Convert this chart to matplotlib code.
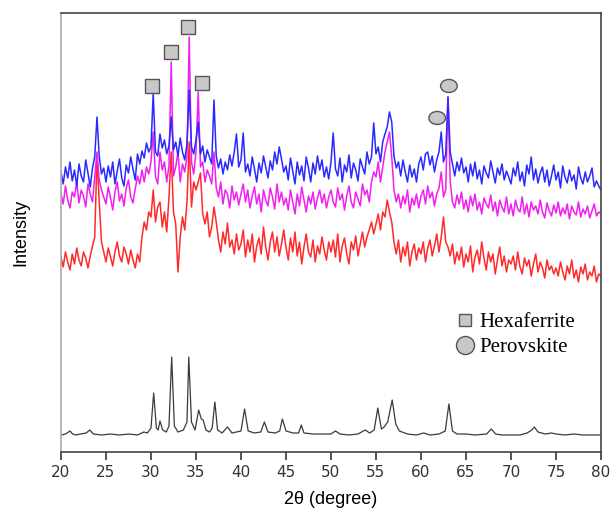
import matplotlib.pyplot as plt
import numpy as np
from matplotlib.lines import Line2D
from matplotlib.patches import Ellipse

# 2theta grid for the three measured patterns (0.25 deg step)
two_theta = np.arange(0, 241) * 0.25 + 20

blue = [
    280, 268, 285, 274, 290, 271, 282, 266, 288, 276, 270, 292, 279, 265, 284, 295, 335, 296, 278, 284,
    270, 286, 275, 290, 268, 281, 293, 274, 266, 287, 279, 295, 283, 272, 298, 288, 301, 294, 309, 300,
    305, 359, 300, 296, 318, 304, 312, 298, 306, 335, 302, 310, 296, 314, 300, 292, 308, 362, 305, 298,
    312, 330, 298, 306, 290, 302, 295, 288, 352, 296, 284, 293, 278, 290, 282, 297, 286, 300, 318, 285,
    292, 319, 280, 288, 276, 295, 283, 270, 289, 279, 296, 285, 274, 291, 282, 300, 288, 305, 293, 280,
    286, 272, 294, 281, 268, 290, 277, 286, 271, 295, 284, 270, 289, 278, 296, 282, 292, 275, 285, 273,
    290, 319, 283, 276, 294, 270, 287, 280, 297, 274, 289, 282, 271, 293, 285, 278, 300, 288, 295, 329,
    298, 305, 290, 310, 318, 325, 340, 330, 296, 284, 290, 276, 292, 280, 270, 287, 275, 283, 270, 288,
    295, 282, 298, 300, 287, 296, 280, 292, 300, 320, 290, 298, 355, 300, 288, 276, 290, 281, 294, 279,
    285, 270, 288, 276, 290, 273, 282, 268, 286, 279, 274, 291, 280, 269, 284, 277, 288, 272, 281, 275,
    268, 284, 276, 290, 271, 280, 266, 287, 278, 295, 272, 283, 269, 279, 285, 270, 282, 266, 276, 287,
    272, 280, 264, 286, 275, 269, 282, 271, 277, 263, 285, 274, 268, 280, 270, 276, 284, 265, 271, 266,
    262,
]

magenta = [
    258, 248, 266, 252, 244, 260, 255, 270, 249, 262, 256, 245, 268, 258, 250, 275, 300, 272, 262, 255,
    248, 265, 254, 242, 260, 270, 251, 258, 246, 264, 272, 255, 249, 263, 276, 268, 282, 270, 285, 278,
    290, 320, 275, 268, 300, 282, 290, 270, 286, 390, 276, 285, 300, 270, 288, 280, 295, 415, 290, 278,
    300, 360, 285, 290, 270, 282, 276, 268, 300, 264, 255, 270, 248, 262, 258, 244, 266, 252, 260, 247,
    258, 268, 250, 262, 244, 256, 265, 248, 258, 240, 262, 252, 246, 264, 255, 243, 268, 250, 260, 247,
    254, 242, 262, 250, 238, 258, 246, 265, 252, 240, 256, 248, 260, 243, 254, 262, 249, 258, 244, 255,
    262, 250, 245, 264, 252, 258, 242, 256, 266, 250, 244, 260, 253, 246, 268, 257, 262, 250, 270, 280,
    275, 290, 270, 285, 300, 310, 320, 295, 262, 250, 258, 244, 256, 248, 262, 240, 254, 247, 258, 244,
    256, 262, 248, 266, 254, 260, 246, 258, 264, 280, 255, 262, 355, 270, 250, 244, 257, 248, 260, 243,
    252, 240, 256, 246, 258, 242, 250, 238, 254, 248, 244, 257, 241, 250, 236, 252, 245, 240, 255, 238,
    248, 236, 252, 243, 240, 255, 238, 248, 235, 250, 242, 246, 238, 252, 240, 234, 249, 241, 236, 247,
    239, 250, 236, 244, 238, 248, 233, 246, 240, 237, 250, 235, 243, 238, 246, 234, 241, 248, 236, 240,
    238,
]

red = [
    195, 185, 200, 190, 182, 198, 188, 204, 192, 186, 200, 194, 184, 196, 206, 215, 295, 250, 210, 200,
    190, 204, 195, 186, 200, 210, 196, 190, 205, 198, 188, 202, 192, 184, 198, 190, 215, 230, 222, 240,
    235, 262, 230, 245, 250, 225, 240, 220, 255, 300, 240, 228, 180, 215, 235, 222, 250, 310, 245, 270,
    262, 270, 279, 238, 228, 240, 215, 225, 245, 230, 212, 200, 220, 208, 229, 205, 212, 198, 218, 202,
    208, 222, 195, 212, 200, 218, 190, 206, 214, 198, 225, 205, 192, 210, 220, 200, 215, 196, 208, 222,
    205, 192, 214, 200, 220, 196, 210, 188, 205, 218, 200, 195, 212, 190, 206, 198, 215, 202, 192, 210,
    200, 212, 195, 218, 190, 206, 214, 198, 188, 210, 202, 216, 196, 208, 220, 205, 215, 222, 230, 218,
    228, 238, 222, 240, 235, 252, 240, 230, 210, 198, 212, 190, 205, 196, 210, 186, 200, 208, 192, 204,
    198, 210, 190, 204, 212, 196, 206, 218, 200, 215, 235, 210, 205, 196, 208, 188, 200, 192, 205, 185,
    198, 190, 206, 180, 195, 202, 188, 210, 194, 182, 200, 190, 198, 178, 192, 205, 186, 196, 180, 192,
    188, 196, 182, 200, 185, 178, 194, 186, 192, 176, 188, 198, 180, 190, 184, 174, 192, 182, 186, 178,
    184, 176, 190, 180, 172, 186, 178, 192, 174, 182, 170, 185, 178, 188, 172, 180, 176, 186, 170, 178,
    176,
]

# reference pattern (black)
ref_x = [20, 20.5, 21.0, 21.3, 21.6, 22.2, 22.8, 23.2, 23.6, 24.5, 25.5, 26.5, 27.5, 28.5, 29.2, 29.6,
         30.0, 30.3, 30.6, 30.8, 31.0, 31.3, 31.7, 32.0, 32.3, 32.6, 33.0, 33.6, 34.0, 34.2, 34.5, 34.9,
         35.3, 35.6, 35.8, 36.1, 36.5, 36.8, 37.1, 37.4, 37.9, 38.5, 39.0, 40.0, 40.4, 40.8, 41.5, 42.2,
         42.6, 43.0, 43.8, 44.3, 44.6, 45.0, 45.8, 46.4, 46.7, 47.0, 48.0, 49.0, 50.0, 50.5, 51.0, 52.0,
         53.0, 53.8, 54.3, 54.8, 55.2, 55.6, 55.9, 56.3, 56.8, 57.2, 57.6, 58.5, 59.5, 60.3, 61.0, 62.0,
         62.7, 63.1, 63.5, 64.0, 65.0, 66.0, 67.3, 67.8, 68.3, 69.0, 70.0, 71.0, 71.8, 72.3, 72.6, 73.0,
         73.8, 74.5, 75.0, 76.0, 77.0, 78.0, 79.0, 80.0]
ref_y = [17, 18, 21, 18, 17, 18, 19, 22, 18, 17, 18, 17, 18, 17, 20, 19,
         24, 59, 24, 22, 31, 22, 20, 26, 95, 26, 20, 22, 30, 95, 30, 22,
         42, 33, 32, 22, 20, 24, 50, 22, 19, 25, 19, 21, 43, 21, 19, 20,
         30, 20, 19, 21, 33, 21, 19, 19, 27, 19, 18, 18, 18, 21, 18, 17,
         18, 22, 19, 22, 44, 23, 25, 30, 52, 28, 21, 18, 17, 19, 17, 18,
         21, 48, 21, 18, 18, 17, 18, 23, 18, 17, 17, 17, 19, 22, 25, 20,
         18, 19, 18, 17, 18, 17, 17, 17]

hexa_x = [30.1, 32.2, 34.1, 35.7]
hexa_y = [366, 400, 425, 369]
perov_x = [61.8, 63.1]
perov_y = [334, 366]

fig = plt.figure(figsize=(6.11, 5.18), dpi=100)
ax = fig.add_axes([0.0998, 0.1274, 0.8838, 0.8476])

ax.plot(ref_x, ref_y, color='#3a3a3a', lw=0.9)
ax.plot(two_theta, red, color='#ff2a2a', lw=1.1)
ax.plot(two_theta, magenta, color='#f020f0', lw=1.1)
ax.plot(two_theta, blue, color='#2a2aff', lw=1.1)

ax.plot(hexa_x, hexa_y, 's', ms=10, mfc='#c8c8c8', mec='#555555', mew=1.0, ls='none')
for px, py in zip(perov_x, perov_y):
    ax.add_patch(Ellipse((px, py), 1.85, 13, fc='#c8c8c8', ec='#555555', lw=1.0))

handles = [
    Line2D([], [], marker='s', ms=9, mfc='#c8c8c8', mec='#555555', ls='none'),
    Line2D([], [], marker='o', ms=13, mfc='#c8c8c8', mec='#555555', ls='none'),
]
ax.legend(handles, ['Hexaferrite', 'Perovskite'], loc='upper left',
          bbox_to_anchor=(0.69, 0.36), frameon=False, handletextpad=0.1,
          labelspacing=0.25, handlelength=1.2,
          prop={'family': 'Liberation Serif', 'size': 15})

ax.set_xlim(20, 80)
ax.set_ylim(0, 439)
ax.set_xticks(list(range(20, 81, 5)))
ax.set_yticks([])
ax.tick_params(axis='x', direction='out', length=6, width=1.2, labelsize=11,
               colors='#333333')
for s in ax.spines.values():
    s.set_color('#444444')
    s.set_linewidth(1.2)
ax.spines['left'].set_color('#aaaaaa')

ax.set_xlabel('2θ (degree)', fontsize=13, family='Liberation Sans', labelpad=8)
ax.set_ylabel('Intensity', fontsize=13, family='Liberation Sans', labelpad=23)

fig.savefig('out.png', dpi=100)
